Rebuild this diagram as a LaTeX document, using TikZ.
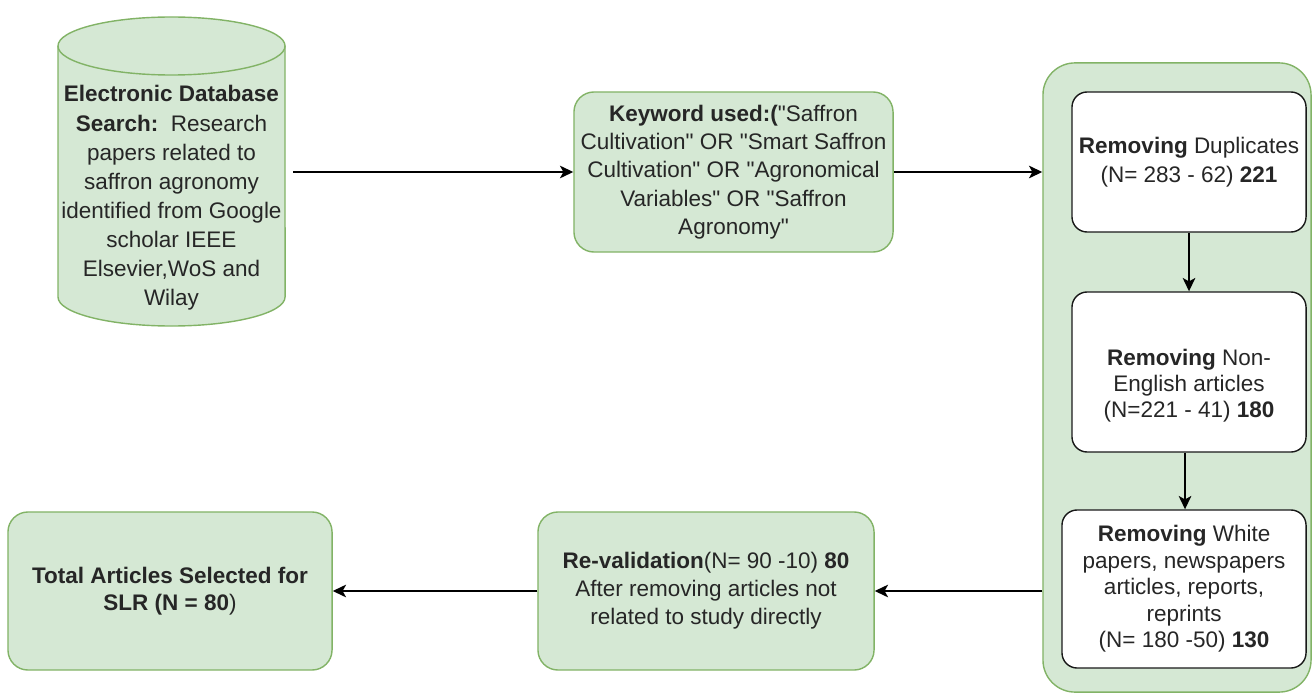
\documentclass[tikz,border=0pt]{standalone}
\usepackage{fontspec}
\setmainfont{Liberation Sans}
\usetikzlibrary{arrows.meta}
\definecolor{gfill}{HTML}{D5E8D4}
\definecolor{gstroke}{HTML}{82B366}
\definecolor{txt}{HTML}{262626}
\tikzset{
  gbox/.style={draw=gstroke, fill=gfill, line width=1pt, rounded corners=0.5cm, inner sep=0pt, align=center, text=txt},
  wbox/.style={draw=black!90, fill=white, line width=1pt, rounded corners=0.38cm, inner sep=0pt, align=center, text=txt},
  lbl/.style={inner sep=0pt, align=center, text=txt},
  arr/.style={-{Stealth[length=9.5pt,width=9pt,inset=2.5pt]}, line width=1.1pt, black},
}
\newcommand{\fs}[1]{\fontsize{16}{#1}\selectfont}
\newcommand{\qq}{\XeTeXglyph\XeTeXcharglyph"22\relax}
\begin{document}
\begin{tikzpicture}[x=0.025cm, y=-0.025cm]
\useasboundingbox (0,0) rectangle (1312,695);
% cylinder
\fill[gfill] (58,46) -- (58,297) arc[start angle=180, end angle=360, x radius=2.8375cm, y radius=0.725cm] -- (285,46) arc[start angle=0, end angle=180, x radius=2.8375cm, y radius=0.725cm] -- cycle;
\draw[gstroke, line width=1pt] (58,46) -- (58,297) arc[start angle=180, end angle=360, x radius=2.8375cm, y radius=0.725cm] -- (285,46);
\draw[gstroke, line width=1pt] (171.5,46) ellipse [x radius=2.8375cm, y radius=0.725cm];
\node[inner sep=0pt, minimum width=5.675cm, minimum height=7.725cm] (db) at (171.5,171.5) {};
\node[lbl, font=\fs{20.7pt}] (dbt) at (171.5,198) {\textbf{Electronic Database}\\\textbf{Search:}\ \ Research\\papers related to\\saffron agronomy\\identified from Google\\scholar IEEE\\Elsevier,WoS and\\Wilay};
% keyword box
\node[gbox, minimum width=7.975cm, minimum height=4cm, font=\fs{20.2pt}] (kw) at (733.5,172) {\textbf{Keyword used:(}\qq Saffron\\Cultivation\qq{} OR \qq Smart Saffron\\Cultivation\qq{} OR \qq Agronomical\\Variables\qq{} OR \qq Saffron\\Agronomy\qq};
% container
\node[gbox, rounded corners=0.8cm, minimum width=6.7cm, minimum height=15.725cm] (c) at (1177,377.5) {};
\node[wbox, minimum width=5.85cm, minimum height=3.5cm, font=\fs{21pt}] (b1) at (1189,162) {\textbf{Removing} Duplicates\\(N= 283 - 62) \textbf{221}};
\node[wbox, minimum width=5.85cm, minimum height=4cm] (b2) at (1189,372) {};
\node[lbl, font=\fs{18.6pt}] (b2t) at (1189,386) {\textbf{Removing} Non-\\English articles\\(N=221 - 41) \textbf{180}};
\node[wbox, minimum width=6.1cm, minimum height=3.95cm, font=\fs{18.8pt}] (b3) at (1184,589) {\textbf{Removing} White\\papers, newspapers\\articles, reports,\\reprints\\(N= 180 -50) \textbf{130}};
% bottom boxes
\node[gbox, minimum width=8.4cm, minimum height=3.95cm, font=\fs{20pt}] (rv) at (706,591) {\textbf{Re-validation}(N= 90 -10) \textbf{80}\\After removing articles not\\related to study directly};
\node[gbox, minimum width=8.1cm, minimum height=3.95cm, font=\fs{19pt}] (tot) at (170,591) {\textbf{Total Articles Selected for}\\\textbf{SLR (N = 80})};
% connectors
\draw[arr] ([xshift=0.2cm]db.east |- kw.west) -- (kw.west);
\draw[arr] (kw.east) -- (kw.east -| c.west);
\draw[arr] (b1.south) -- (b2.north);
\draw[arr] ([xshift=-0.1cm]b2.south) -- ([xshift=-0.1cm]b2.south |- b3.north);
\draw[arr] (c.west |- rv.east) -- (rv.east);
\draw[arr] (rv.west) -- (tot.east);
\end{tikzpicture}
\end{document}
